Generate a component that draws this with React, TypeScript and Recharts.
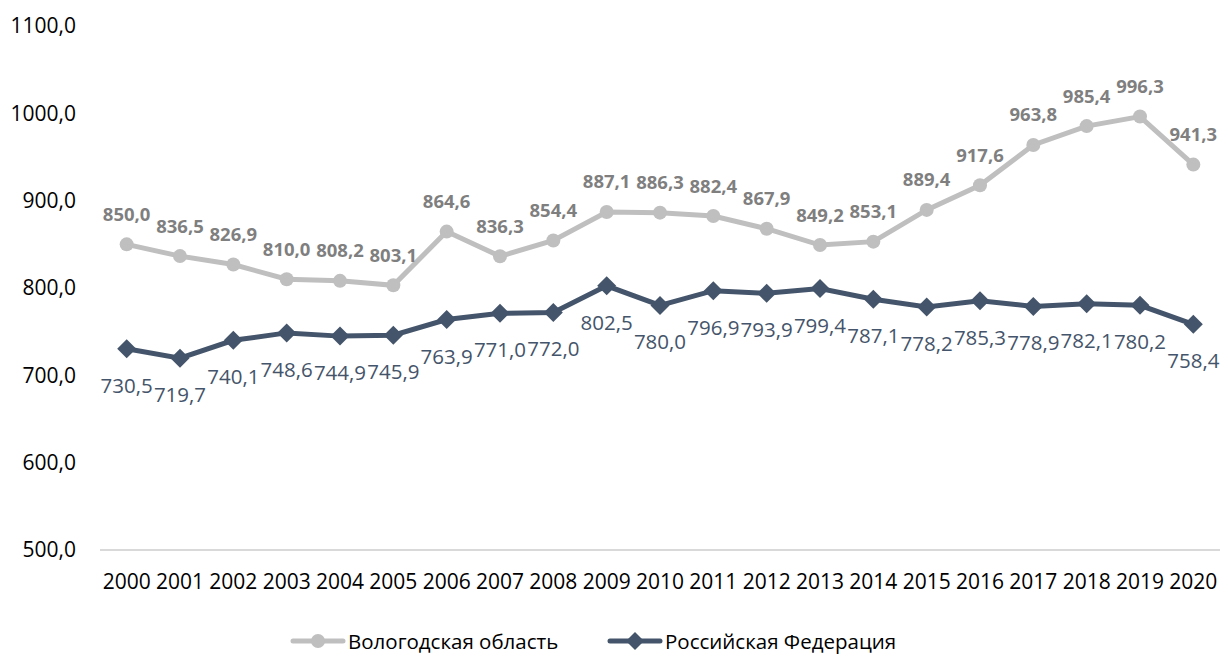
import React from 'react';
import { LineChart, Line, XAxis, YAxis, LabelList } from 'recharts';

const years = ['2000', '2001', '2002', '2003', '2004', '2005', '2006', '2007', '2008', '2009', '2010',
  '2011', '2012', '2013', '2014', '2015', '2016', '2017', '2018', '2019', '2020'];

// Вологодская область
const vologda = [850.0, 836.5, 826.9, 810.0, 808.2, 803.1, 864.6, 836.3, 854.4, 887.1, 886.3,
  882.4, 867.9, 849.2, 853.1, 889.4, 917.6, 963.8, 985.4, 996.3, 941.3];

// Российская Федерация
const russia = [730.5, 719.7, 740.1, 748.6, 744.9, 745.9, 763.9, 771.0, 772.0, 802.5, 780.0,
  796.9, 793.9, 799.4, 787.1, 778.2, 785.3, 778.9, 782.1, 780.2, 758.4];

const yTicks = [500, 600, 700, 800, 900, 1000, 1100];

const seriesNames = ['Вологодская область', 'Российская Федерация'];

const data = years.map((year, i) => ({ year, vologda: vologda[i], russia: russia[i] }));

const GRAY = '#BFBFBF';
const GRAY_TEXT = '#7F7F7F';
const NAVY = '#44546A';
const FONT = '"Open Sans", sans-serif';

const fmt = (v: number) => v.toFixed(1).replace('.', ',');

const VologdaLabel = (props: any) => {
  const { x, y, value } = props;
  // keep the last label inside the chart, like Excel does
  const cx = Math.min(x, 1228 - 25);
  return (
    <text x={cx} y={y - 31} textAnchor="middle" dominantBaseline="central"
      fontFamily={FONT} fontSize={18.5} fontWeight={700} fill={GRAY_TEXT}>
      {fmt(value)}
    </text>
  );
};

const RussiaLabel = (props: any) => {
  const { x, y, value } = props;
  return (
    <text x={x} y={y + 36} textAnchor="middle" dominantBaseline="central"
      fontFamily={FONT} fontSize={20.5} fill={NAVY}>
      {fmt(value)}
    </text>
  );
};

const Diamond = (props: any) => {
  const { cx, cy, index } = props;
  if (cx == null || cy == null) return null;
  const r = 9.5;
  return (
    <path key={`d-${index}`} d={`M${cx},${cy - r}L${cx + r},${cy}L${cx},${cy + r}L${cx - r},${cy}Z`} fill={NAVY} />
  );
};

const LegendItem = ({ left, name, marker }: { left: number; name: string; marker: 'circle' | 'diamond' }) => (
  <div style={{ position: 'absolute', left, top: 627, height: 28, display: 'flex', alignItems: 'center' }}>
    <svg width={56} height={20} style={{ display: 'block' }}>
      <line x1={3} y1={10} x2={53} y2={10} stroke={marker === 'circle' ? GRAY : NAVY}
        strokeWidth={5} strokeLinecap="round" />
      {marker === 'circle'
        ? <circle cx={28} cy={10} r={7} fill={GRAY} />
        : <path d="M28,1L37,10L28,19L19,10Z" fill={NAVY} />}
    </svg>
    <span style={{ fontFamily: FONT, fontSize: 20.5, color: '#000', marginLeft: 2, whiteSpace: 'nowrap' }}>{name}</span>
  </div>
);

export default function App() {
  return (
    <div style={{ position: 'absolute', left: 0, top: 0, width: 1228, height: 657, background: '#fff', fontFamily: FONT, overflow: 'hidden' }}>
      <LineChart width={1228} height={657} data={data}
        margin={{ top: 26, right: 8, left: 0, bottom: 67 }}>
        <XAxis dataKey="year" height={40} tickLine={false} tickSize={0} tickMargin={24}
          axisLine={{ stroke: '#D9D9D9', strokeWidth: 2 }}
          padding={{ left: 26.67, right: 26.67 }}
          tick={{ fontSize: 21, fill: '#000', fontFamily: FONT }} interval={0} />
        <YAxis domain={[500, 1100]} ticks={yTicks} width={100} axisLine={false} tickLine={false}
          tickSize={0} tickMargin={24} tickFormatter={fmt}
          tick={{ fontSize: 21, fill: '#000', fontFamily: FONT }} />
        <Line dataKey="vologda" name={seriesNames[0]} stroke={GRAY} strokeWidth={5}
          dot={{ r: 7, fill: GRAY, stroke: 'none' }} activeDot={false} isAnimationActive={false}>
          <LabelList dataKey="vologda" content={VologdaLabel} />
        </Line>
        <Line dataKey="russia" name={seriesNames[1]} stroke={NAVY} strokeWidth={5}
          dot={Diamond} activeDot={false} isAnimationActive={false}>
          <LabelList dataKey="russia" content={RussiaLabel} />
        </Line>
      </LineChart>
      <LegendItem left={290} name={seriesNames[0]} marker="circle" />
      <LegendItem left={607} name={seriesNames[1]} marker="diamond" />
    </div>
  );
}
